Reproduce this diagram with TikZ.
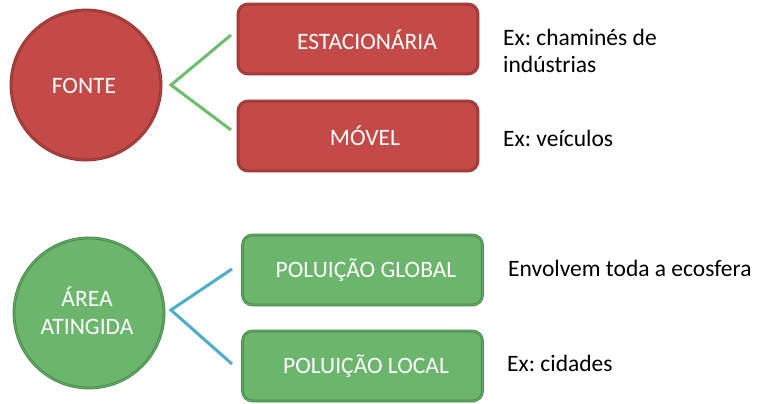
\documentclass[tikz,border=0pt]{standalone}
\usepackage{fontspec}
\setmainfont{Carlito}
\frenchspacing
\definecolor{redfill}{HTML}{C44A48}
\definecolor{redline}{HTML}{8E3331}
\definecolor{greenfill}{HTML}{6BB56C}
\definecolor{greenline}{HTML}{4B8A4C}
\definecolor{glink}{HTML}{6CBE6A}
\definecolor{blink}{HTML}{4EADC8}
\begin{document}
\begin{tikzpicture}[x=1pt,y=1pt,
  redshape/.style={fill=redfill,draw=redline,line width=0.9pt,double=redfill!80!redline,double distance=1pt},
  greenshape/.style={fill=greenfill,draw=greenline,line width=0.9pt,double=greenfill!80!greenline,double distance=1pt},
  circ/.style={circle,minimum size=150pt,inner sep=0pt},
  boxr/.style={rectangle,rounded corners=10pt,minimum width=240pt,minimum height=70pt,inner sep=0pt},
  label/.style={text=white,align=center,inner sep=0pt,font=\fontsize{23.5}{28}\selectfont},
  note/.style={anchor=west,align=left,inner sep=0pt,font=\fontsize{23.5}{27}\selectfont},
  link/.style={line width=3pt}]
\useasboundingbox (0,0) rectangle (758,404);
% top group
\node[redshape,circ] (fonte) at (86,319) {};
\node[label] (fontet) at (84,318) {FONTE};
\node[redshape,boxr] (est) at (358,365) {};
\node[label] (estt) at (367,364) {ESTACIONÁRIA};
\node[redshape,boxr] (mov) at (358,268) {};
\node[label] (movt) at (365,268) {MÓVEL};
\coordinate (a1) at (171,319);
\coordinate (a1t) at (231,369);
\coordinate (a1b) at (231,274);
\draw[link,glink] (a1t) -- (a1) -- (a1b);
\node[note] (n1) at (503,353) {Ex: chaminés de\\indústrias};
\node[note] (n2) at (503,266) {Ex: veículos};
% bottom group
\node[greenshape,circ] (area) at (89,91) {};
\node[label] (areat) at (87,93) {ÁREA\\ATINGIDA};
\node[greenshape,boxr] (glob) at (362.5,134) {};
\node[label] (globt) at (366,134) {POLUIÇÃO GLOBAL};
\node[greenshape,boxr] (loc) at (362.5,38) {};
\node[label] (loct) at (366,38) {POLUIÇÃO LOCAL};
\coordinate (a2) at (171,94);
\coordinate (a2t) at (232,135);
\coordinate (a2b) at (232,40);
\draw[link,blink] (a2t) -- (a2) -- (a2b);
\node[note] (n3) at (508,136) {Envolvem toda a ecosfera};
\node[note] (n4) at (507,41) {Ex: cidades};
\end{tikzpicture}
\end{document}
